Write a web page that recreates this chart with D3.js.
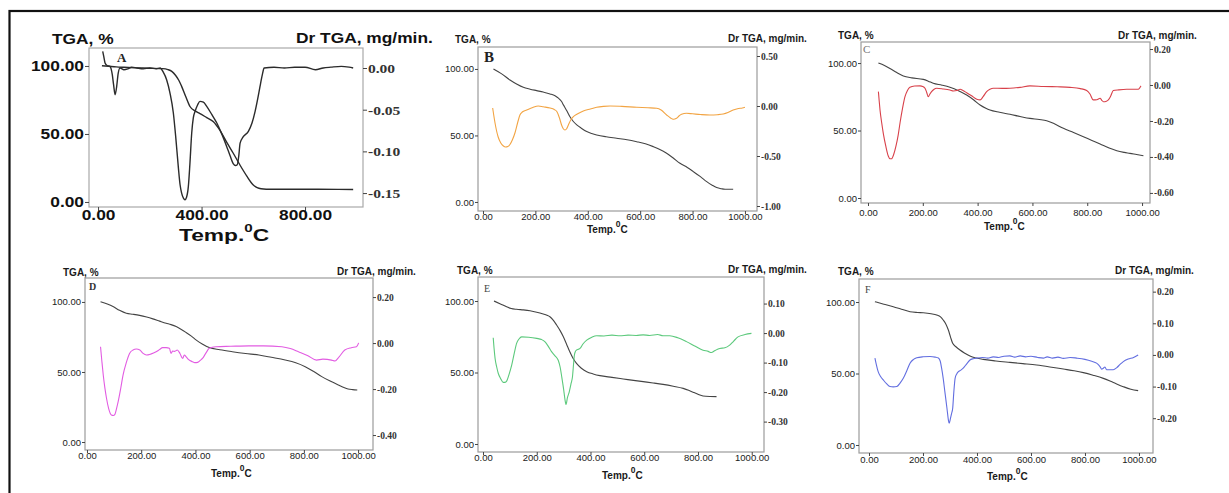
<!DOCTYPE html>
<html>
<head>
<meta charset="utf-8">
<script src="https://cdn.jsdelivr.net/npm/d3@7"></script>
<style>
  body { margin: 0; background: #fff; }
  svg { display: block; }
</style>
</head>
<body>
<svg id="fig" width="1229" height="493"></svg>
<script>
// ---- Tick values ----
const tempTicksA = [0, 400, 800];
const tempTicks = [0, 200, 400, 600, 800, 1000];
const tgaTicks = [0, 50, 100];
const dtgTicksA = [0, -0.05, -0.10, -0.15];
const dtgTicksB = [0.5, 0, -0.5, -1.0];
const dtgTicksC = [0.2, 0, -0.2, -0.4, -0.6];
const dtgTicksD = [0.2, 0, -0.2, -0.4];
const dtgTicksE = [0.1, 0, -0.1, -0.2, -0.3];
const dtgTicksF = [0.2, 0.1, 0, -0.1, -0.2];

// ---- Series: [temperature °C, value] ----
const tgaA = [[15,100.2],[40,99.8],[70,99.3],[100,99],[150,98.6],[200,98.3],[250,98],[270,97.3],[285,96],[300,93],[312,89.5],[323,85],[340,77],[356,70],[375,67],[394,65],[420,62],[446,59],[470,53],[497,44],[522,36],[549,27],[575,19],[600,12.5],[615,10.5],[630,9.7],[650,9.4],[750,9.3],[850,9.3],[986,9.2]];
const dtgA = [[18,0.02],[22,0.014],[27,0.006],[35,0.003],[46,0.002],[55,-0.008],[60,-0.02],[66,-0.032],[72,-0.022],[78,-0.006],[85,0.0],[100,-0.002],[115,-0.001],[130,0.001],[150,0.0],[175,-0.001],[200,0.0],[225,-0.001],[240,0.0],[252,-0.005],[265,-0.014],[278,-0.03],[291,-0.054],[300,-0.082],[310,-0.118],[317,-0.14],[323,-0.15],[330,-0.156],[336,-0.158],[342,-0.155],[349,-0.142],[355,-0.115],[362,-0.078],[368,-0.06],[375,-0.052],[385,-0.044],[394,-0.04],[407,-0.041],[420,-0.046],[440,-0.056],[459,-0.066],[478,-0.079],[497,-0.094],[510,-0.105],[523,-0.115],[531,-0.117],[538,-0.116],[544,-0.105],[549,-0.09],[560,-0.083],[581,-0.076],[595,-0.066],[607,-0.052],[617,-0.037],[626,-0.022],[635,-0.008],[642,0],[680,0.001],[720,0.0],[760,0.001],[800,0.001],[840,-0.002],[870,0.0],[900,0.001],[940,0.002],[970,0.001],[986,0.0]];

const tgaB = [[40,100],[70,96.5],[103,91.7],[130,88.5],[154,86.2],[180,84.8],[205,83.7],[230,82.6],[256,81.2],[275,79.8],[288,78],[300,75.5],[307,73],[320,68.5],[332,64],[345,60.5],[358,58],[375,55.5],[396,52.9],[415,51.5],[434,50.4],[470,49],[510,47.9],[550,46.8],[587,45.3],[620,43.7],[650,41.6],[675,39.5],[701,36.6],[725,33.2],[752,29.1],[780,25.9],[803,22.8],[830,19],[854,15.3],[875,12.6],[892,10.8],[910,9.9],[924,9.5],[955,9.5]];
const dtgB = [[37,-0.02],[41,-0.09],[46,-0.17],[52,-0.25],[58,-0.31],[68,-0.37],[78,-0.40],[86,-0.41],[95,-0.405],[103,-0.385],[112,-0.34],[122,-0.27],[132,-0.17],[141,-0.09],[150,-0.06],[167,-0.04],[190,-0.015],[211,0],[230,-0.008],[256,-0.02],[272,-0.035],[283,-0.06],[292,-0.12],[300,-0.19],[306,-0.225],[313,-0.24],[320,-0.225],[326,-0.19],[335,-0.14],[345,-0.107],[360,-0.08],[383,-0.05],[410,-0.03],[434,-0.013],[460,-0.004],[485,0],[530,-0.004],[587,-0.013],[630,-0.018],[663,-0.023],[680,-0.04],[701,-0.09],[716,-0.12],[726,-0.133],[732,-0.13],[739,-0.123],[748,-0.1],[758,-0.083],[777,-0.073],[800,-0.078],[830,-0.085],[866,-0.09],[895,-0.087],[917,-0.08],[935,-0.065],[955,-0.04],[975,-0.025],[990,-0.02],[1000,-0.013]];

const tgaC = [[38,100],[60,98.2],[80,96],[105,93],[129,90.4],[160,89],[202,87.9],[220,86.6],[238,85],[270,83.6],[299,82],[330,79.5],[360,76.3],[385,72.8],[409,68.9],[430,66.5],[445,65.2],[480,63.5],[518,62],[555,60.4],[591,59],[625,58.2],[652,57.3],[680,55],[713,51.6],[750,48.5],[786,45.4],[815,42.8],[847,40],[880,37],[908,35],[935,33.8],[956,33.1],[980,32.2],[1005,31.3]];
const dtgC = [[38,-0.037],[41,-0.09],[44,-0.14],[50,-0.21],[56,-0.27],[65,-0.34],[74,-0.395],[80,-0.41],[86,-0.41],[94,-0.385],[102,-0.34],[110,-0.28],[117,-0.21],[126,-0.13],[135,-0.065],[144,-0.03],[153,-0.013],[170,-0.006],[190,-0.005],[200,-0.008],[208,-0.018],[214,-0.04],[220,-0.065],[226,-0.05],[232,-0.037],[240,-0.025],[251,-0.018],[275,-0.022],[299,-0.028],[312,-0.033],[324,-0.031],[336,-0.024],[348,-0.032],[360,-0.043],[378,-0.06],[397,-0.079],[409,-0.083],[420,-0.065],[433,-0.037],[445,-0.024],[457,-0.018],[490,-0.019],[518,-0.018],[555,-0.013],[591,-0.005],[640,-0.008],[690,-0.01],[737,-0.013],[775,-0.02],[798,-0.031],[810,-0.05],[822,-0.083],[835,-0.082],[847,-0.074],[853,-0.085],[859,-0.093],[870,-0.09],[877,-0.083],[886,-0.06],[895,-0.031],[915,-0.027],[944,-0.024],[970,-0.024],[986,-0.024],[992,-0.015],[996,-0.005]];

const tgaD = [[50,100.2],[75,98.5],[96,96.7],[120,94],[145,91.9],[170,91.2],[194,90.4],[220,89.2],[243,87.9],[268,86.3],[292,84.8],[310,83.8],[329,82.4],[348,80.4],[365,78.3],[385,75.6],[402,72.9],[425,70],[451,67.4],[490,65.9],[536,64.5],[585,63.2],[634,62.1],[680,60.5],[731,58.6],[770,56.6],[805,53.8],[835,50.5],[866,46.7],[897,43.5],[927,40.7],[950,38.7],[963,37.9],[980,37.4],[997,37.1]];
const dtgD = [[50,-0.016],[55,-0.08],[60,-0.139],[66,-0.195],[72,-0.24],[80,-0.285],[90,-0.313],[97,-0.315],[103,-0.31],[109,-0.285],[115,-0.255],[124,-0.2],[133,-0.139],[145,-0.085],[157,-0.045],[170,-0.03],[182,-0.026],[195,-0.03],[207,-0.045],[219,-0.052],[235,-0.048],[255,-0.038],[268,-0.028],[279,-0.02],[292,-0.02],[304,-0.023],[310,-0.045],[316,-0.035],[324,-0.036],[333,-0.03],[343,-0.045],[353,-0.067],[359,-0.052],[366,-0.06],[375,-0.072],[389,-0.081],[398,-0.085],[408,-0.084],[418,-0.075],[426,-0.067],[438,-0.045],[451,-0.023],[475,-0.016],[530,-0.014],[597,-0.012],[650,-0.012],[719,-0.016],[750,-0.024],[780,-0.038],[815,-0.055],[847,-0.074],[870,-0.07],[902,-0.074],[915,-0.078],[930,-0.06],[951,-0.03],[975,-0.02],[994,-0.016],[1002,0.001]];

const tgaE = [[41,100],[65,98],[88,96],[105,94.8],[125,94.2],[150,93.8],[175,93.2],[200,92.2],[224,90.9],[238,90],[249,89],[262,86.5],[274,83.2],[287,79.3],[299,75],[311,69.8],[323,64.5],[335,60],[348,56.4],[366,53],[386,50.6],[410,49],[435,47.8],[480,46.6],[522,45.5],[560,44.5],[596,43.6],[633,42.7],[670,41.7],[708,40.4],[745,38.9],[765,37.6],[782,36.2],[800,34.8],[819,33.6],[845,33.2],[869,33.1]];
const dtgE = [[38,-0.016],[41,-0.05],[45,-0.086],[51,-0.115],[57,-0.137],[66,-0.155],[75,-0.167],[82,-0.167],[88,-0.163],[97,-0.14],[107,-0.108],[116,-0.07],[125,-0.035],[134,-0.02],[144,-0.013],[170,-0.014],[200,-0.018],[218,-0.022],[230,-0.029],[243,-0.045],[255,-0.063],[268,-0.077],[280,-0.092],[287,-0.115],[293,-0.148],[300,-0.19],[305,-0.225],[309,-0.242],[314,-0.22],[321,-0.199],[328,-0.17],[333,-0.148],[337,-0.105],[340,-0.075],[344,-0.062],[348,-0.058],[355,-0.055],[361,-0.052],[372,-0.037],[386,-0.024],[405,-0.014],[423,-0.009],[450,-0.01],[480,-0.007],[510,-0.009],[540,-0.007],[570,-0.008],[596,-0.006],[620,-0.008],[650,-0.005],[670,-0.009],[695,-0.009],[725,-0.016],[757,-0.029],[790,-0.045],[819,-0.058],[838,-0.062],[850,-0.066],[862,-0.06],[881,-0.052],[900,-0.05],[918,-0.041],[933,-0.027],[949,-0.013],[975,-0.005],[999,-0.001]];

const tgaF = [[22,100.2],[55,98.5],[90,96.7],[120,95],[152,93.2],[180,92.7],[201,92.5],[230,91.8],[251,90.9],[265,89.6],[275,87.4],[285,84.5],[294,80.4],[302,75.5],[310,71.1],[322,68.7],[337,66.4],[355,64.2],[374,62.2],[398,60.8],[423,59.9],[470,58.8],[522,57.8],[570,56.9],[621,55.9],[670,54.6],[720,53.1],[760,51.9],[794,50.6],[830,48.8],[868,46.6],[905,43.7],[942,40.8],[970,39],[997,38]];
const dtgF = [[22,-0.01],[27,-0.03],[34,-0.053],[43,-0.068],[53,-0.079],[65,-0.091],[78,-0.1],[90,-0.101],[103,-0.1],[115,-0.089],[127,-0.074],[140,-0.05],[152,-0.026],[165,-0.014],[177,-0.009],[200,-0.006],[226,-0.005],[245,-0.007],[257,-0.01],[264,-0.02],[269,-0.042],[275,-0.075],[281,-0.116],[289,-0.17],[294,-0.205],[297,-0.216],[302,-0.2],[306,-0.185],[310,-0.169],[314,-0.12],[319,-0.074],[325,-0.06],[331,-0.053],[340,-0.048],[349,-0.042],[362,-0.028],[374,-0.016],[386,-0.012],[399,-0.01],[420,-0.008],[440,-0.01],[460,-0.006],[480,-0.008],[500,-0.004],[522,-0.003],[540,-0.007],[560,-0.003],[580,-0.006],[600,-0.004],[625,-0.008],[646,-0.01],[660,-0.006],[680,-0.01],[700,-0.007],[720,-0.011],[745,-0.008],[769,-0.01],[800,-0.014],[825,-0.02],[843,-0.026],[855,-0.036],[862,-0.045],[868,-0.042],[874,-0.038],[880,-0.047],[895,-0.047],[905,-0.047],[918,-0.04],[930,-0.03],[942,-0.021],[960,-0.013],[980,-0.008],[997,0]];

// ---- Text styles ----
const SANS = "'Liberation Sans', Arial, sans-serif";
const SERIF = "'Liberation Serif', 'Times New Roman', serif";

const bigStyle = {
  sans: 14, serif: 13.5, weight: "bold", sx: 1.24, serifSx: 1.15,
  tick: 4, titleSize: 14, tempSize: 16.5, tempSx: 1.38, supSize: 11, supDy: -9,
  lineW: 1.4, frameColor: "#a9a9a9", frameW: 1.2, text: "#111"
};
const smallStyle = {
  sans: 9.5, serif: 9.5, weight: "normal", sx: 1, serifSx: 1,
  tick: 3, titleSize: 10, tempSize: 10, tempSx: 1, supSize: 8.5, supDy: -6,
  lineW: 1.1, frameColor: "#9c9c9c", frameW: 1.2, text: "#1a1a1a"
};

// ---- Panel layout ----
const panels = [
  { letter: "A", tga: tgaA, dtg: dtgA, tgaColor: "#2b2b2b", dtgColor: "#2b2b2b", st: bigStyle,
    frame: [89, 48, 363, 207], xDomain: [-35, 1024], tgaDomain: [-3.7, 113.2], dtgDomain: [-0.1667, 0.024],
    xTicks: tempTicksA, dtgTicks: dtgTicksA, xLabelY: 220, titleL: [52, 44], titleR: [296, 43],
    temp: [179, 241], letterPos: [117, 62, 13, "bold", "#222"] },
  { letter: "B", tga: tgaB, dtg: dtgB, tgaColor: "#444", dtgColor: "#f2a443", st: smallStyle,
    frame: [478, 47, 757, 211], xDomain: [-19, 1046], tgaDomain: [-6.8, 116.5], dtgDomain: [-1.05, 0.59],
    xTicks: tempTicks, dtgTicks: dtgTicksB, xLabelY: 220, titleL: [455, 43], titleR: [728, 42],
    temp: [587, 233], letterPos: [484, 62, 15, "bold", "#222"] },
  { letter: "C", tga: tgaC, dtg: dtgC, tgaColor: "#444", dtgColor: "#d8414a", st: smallStyle,
    frame: [861, 42, 1150, 203], xDomain: [-25.5, 1029], tgaDomain: [-3.7, 115.6], dtgDomain: [-0.656, 0.239],
    xTicks: tempTicks, dtgTicks: dtgTicksC, xLabelY: 216, titleL: [838, 39], titleR: [1118, 39],
    temp: [984, 230], letterPos: [863, 53, 11, "normal", "#777"] },
  { letter: "D", tga: tgaD, dtg: dtgD, tgaColor: "#444", dtgColor: "#e25ce2", st: smallStyle,
    frame: [85, 278, 373, 450], xDomain: [-7.3, 1055], tgaDomain: [-5.7, 117.1], dtgDomain: [-0.465, 0.283],
    xTicks: tempTicks, dtgTicks: dtgTicksD, xLabelY: 459, titleL: [63, 276], titleR: [337, 275],
    temp: [211, 477], letterPos: [89, 290, 10, "bold", "#333"] },
  { letter: "E", tga: tgaE, dtg: dtgE, tgaColor: "#444", dtgColor: "#5cc97c", st: smallStyle,
    frame: [478, 277, 764, 452], xDomain: [-18.6, 1045.7], tgaDomain: [-5.6, 116.8], dtgDomain: [-0.403, 0.19],
    xTicks: tempTicks, dtgTicks: dtgTicksE, xLabelY: 461, titleL: [457, 274], titleR: [728, 273],
    temp: [602, 479], letterPos: [484, 292, 10, "normal", "#444"] },
  { letter: "F", tga: tgaF, dtg: dtgF, tgaColor: "#444", dtgColor: "#626ee0", st: smallStyle,
    frame: [859, 279, 1153, 453], xDomain: [-37, 1052], tgaDomain: [-5.6, 116.1], dtgDomain: [-0.31, 0.24],
    xTicks: tempTicks, dtgTicks: dtgTicksF, xLabelY: 463, titleL: [838, 275], titleR: [1115, 274],
    temp: [987, 480], letterPos: [865, 293, 10, "normal", "#444"] }
];

const svg = d3.select("#fig");

// outer figure border
svg.append("rect")
  .attr("x", 9.5).attr("y", 11).attr("width", 1240).attr("height", 500)
  .attr("fill", "none").attr("stroke", "#111").attr("stroke-width", 2.2);

const fmt = v => v.toFixed(2);

// Horizontal stretch for tick text, keeping each label's anchor in place
function stretch(sel, sx) {
  if (sx === 1) return;
  sel.each(function () {
    const t = d3.select(this);
    const xv = +t.attr("x") || 0;
    t.attr("x", xv / sx).attr("transform", `scale(${sx},1)`);
  });
}

function drawPanel(p) {
  const st = p.st;
  const [L, T, R, B] = p.frame;
  const g = svg.append("g");

  const x = d3.scaleLinear().domain(p.xDomain).range([L, R]);
  const yL = d3.scaleLinear().domain(p.tgaDomain).range([B, T]);
  const yR = d3.scaleLinear().domain(p.dtgDomain).range([B, T]);

  // plot frame
  g.append("rect")
    .attr("x", L).attr("y", T).attr("width", R - L).attr("height", B - T)
    .attr("fill", "none").attr("stroke", st.frameColor).attr("stroke-width", st.frameW);

  // bottom axis
  const ax = g.append("g").attr("transform", `translate(0,${B})`)
    .call(d3.axisBottom(x).tickValues(p.xTicks).tickFormat(fmt).tickSize(st.tick).tickSizeOuter(0));
  ax.select(".domain").remove();
  ax.selectAll("text").attr("y", p.xLabelY - B).attr("dy", 0)
    .attr("font-family", SANS).attr("font-size", st.sans).attr("font-weight", st.weight).attr("fill", st.text);
  stretch(ax.selectAll("text"), st.sx);

  // left axis (TGA %)
  const al = g.append("g").attr("transform", `translate(${L},0)`)
    .call(d3.axisLeft(yL).tickValues(tgaTicks).tickFormat(fmt).tickSize(st.tick).tickPadding(1).tickSizeOuter(0));
  al.select(".domain").remove();
  al.selectAll("text")
    .attr("font-family", SANS).attr("font-size", st.sans).attr("font-weight", st.weight).attr("fill", st.text);
  stretch(al.selectAll("text"), st.sx);

  // right axis (DTG mg/min)
  const ar = g.append("g").attr("transform", `translate(${R},0)`)
    .call(d3.axisRight(yR).tickValues(p.dtgTicks).tickFormat(fmt).tickSize(st.tick).tickPadding(1).tickSizeOuter(0));
  ar.select(".domain").remove();
  ar.selectAll("text")
    .attr("font-family", SERIF).attr("font-size", st.serif).attr("font-weight", "bold").attr("fill", "#333");
  stretch(ar.selectAll("text"), st.serifSx);
  g.selectAll(".tick line").attr("stroke", "#444");

  // curves
  const lineT = d3.line().x(d => x(d[0])).y(d => yL(d[1])).curve(d3.curveMonotoneX);
  const lineD = d3.line().x(d => x(d[0])).y(d => yR(d[1])).curve(d3.curveMonotoneX);
  g.append("path").datum(p.tga).attr("d", lineT)
    .attr("fill", "none").attr("stroke", p.tgaColor).attr("stroke-width", st.lineW).attr("stroke-linejoin", "round");
  g.append("path").datum(p.dtg).attr("d", lineD)
    .attr("fill", "none").attr("stroke", p.dtgColor).attr("stroke-width", st.lineW).attr("stroke-linejoin", "round");

  // axis titles
  const title = (pos, txt) => g.append("text")
    .attr("transform", `translate(${pos[0]},${pos[1]}) scale(${st.sx},1)`)
    .attr("font-family", SANS).attr("font-size", st.titleSize).attr("font-weight", "bold")
    .attr("fill", st.text).text(txt);
  title(p.titleL, "TGA, %");
  title(p.titleR, "Dr TGA, mg/min.");

  // temperature title: "Temp." + raised zero + "C", laid out in sequence
  const tg = g.append("g")
    .attr("transform", `translate(${p.temp[0]},${p.temp[1]}) scale(${st.tempSx},1)`)
    .attr("font-family", SANS).attr("font-weight", "bold").attr("fill", st.text);
  const tt = tg.append("text").attr("font-size", st.tempSize).text("Temp.");
  const w = tt.node().getComputedTextLength();
  const zero = tg.append("text").attr("x", w).attr("y", st.supDy).attr("font-size", st.supSize).text("0");
  const wz = zero.node().getComputedTextLength();
  tg.append("text").attr("x", w + wz).attr("font-size", st.tempSize).text("C");

  // panel letter
  const lp = p.letterPos;
  g.append("text").attr("x", lp[0]).attr("y", lp[1])
    .attr("font-family", SERIF).attr("font-size", lp[2]).attr("font-weight", lp[3]).attr("fill", lp[4])
    .text(p.letter);
}

panels.forEach(drawPanel);
</script>
</body>
</html>
